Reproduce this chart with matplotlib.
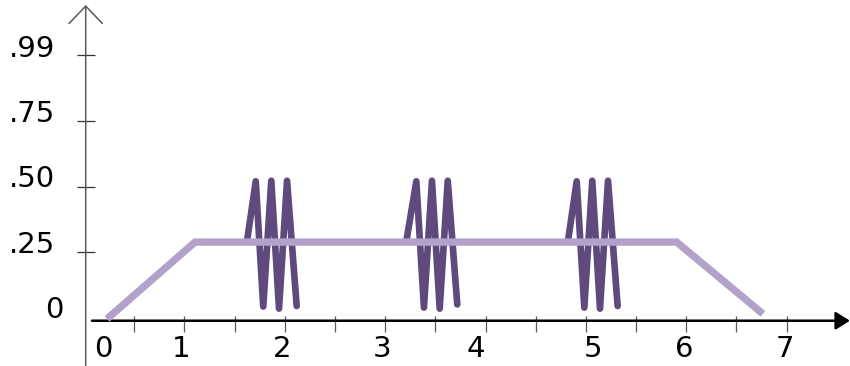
import matplotlib
matplotlib.use("Agg")
import matplotlib.pyplot as plt

# ── Data ──────────────────────────────────────────────────────────────────────
plateau_x = [0.228, 1.105, 5.904, 6.764]
plateau_y = [-0.003, 0.289, 0.289, 0.016]

burst1_x = [1.626, 1.710, 1.785, 1.865, 1.942, 2.022, 2.118]
burst2_x = [3.214, 3.310, 3.386, 3.466, 3.543, 3.623, 3.718]
burst3_x = [4.824, 4.908, 4.984, 5.063, 5.140, 5.220, 5.316]
burst1_y = [0.30, 0.52, 0.044, 0.522, 0.036, 0.522, 0.046]
burst2_y = [0.30, 0.52, 0.040, 0.522, 0.036, 0.522, 0.052]
burst3_y = [0.30, 0.52, 0.040, 0.522, 0.036, 0.522, 0.046]

x_ticks = [0.5, 1, 1.5, 2, 2.5, 3, 3.5, 4, 4.5, 5, 5.5, 6, 6.5, 7]
x_labels = ["0", "1", "2", "3", "4", "5", "6", "7"]
x_label_pos = [0.19, 0.97, 1.97, 2.97, 3.90, 5.07, 5.98, 6.98]

y_ticks = [0.25, 0.50, 0.75, 1.0]
y_labels = [".99", ".75", ".50", ".25", "0"]
y_label_pos = [0.994, 0.746, 0.499, 0.246, 0.0]

# ── Theme ─────────────────────────────────────────────────────────────────────
DARK = "#5e4a7d"
LIGHT = "#b2a2c9"
AXIS_GRAY = "#5a5a5a"
FONT = "DejaVu Sans"

fig = plt.figure(figsize=(8.5, 3.66), dpi=100, facecolor="white")
ax = fig.add_axes([0, 0, 1, 1])
ax.set_xlim(-0.838, 7.631)
ax.set_ylim(-0.182, 1.209)
ax.axis("off")

# ── Axes drawn by hand ────────────────────────────────────────────────────────
y_axis_x = 0.016
x_axis_y = -0.0099
ax.annotate("", xy=(y_axis_x, 1.19), xytext=(y_axis_x, -0.19),
            arrowprops=dict(arrowstyle="->,head_length=1.25,head_width=1.2",
                            color=AXIS_GRAY, lw=1.1, shrinkA=0, shrinkB=0))
ax.annotate("", xy=(7.63, x_axis_y), xytext=(0.078, x_axis_y),
            arrowprops=dict(arrowstyle="-|>,head_length=0.86,head_width=0.54",
                            color="black", lw=1.8, shrinkA=0, shrinkB=0))

ax.vlines(x_ticks, -0.053, 0.008, color=AXIS_GRAY, lw=0.9)
ax.hlines(y_ticks, -0.071, 0.109, color="#333333", lw=0.9)

# ── Data lines ────────────────────────────────────────────────────────────────
for bx, by in [(burst1_x, burst1_y), (burst2_x, burst2_y), (burst3_x, burst3_y)]:
    ax.plot(bx, by, color=DARK, lw=4.8, solid_capstyle="round",
            solid_joinstyle="round", zorder=3)
ax.plot(plateau_x, plateau_y, color=LIGHT, lw=5.3, solid_capstyle="butt",
        solid_joinstyle="miter", zorder=4)

# ── Labels ────────────────────────────────────────────────────────────────────
for lab, xp in zip(x_labels, x_label_pos):
    ax.text(xp, -0.147, lab, ha="center", va="baseline", fontsize=21,
            family=FONT, color="black")
for lab, yp in zip(y_labels, y_label_pos):
    xr = -0.207 if lab == "0" else -0.290
    ax.text(xr, yp, lab, ha="right", va="baseline", fontsize=21,
            family=FONT, color="black")

plt.savefig("out.png", dpi=100, facecolor="white")
